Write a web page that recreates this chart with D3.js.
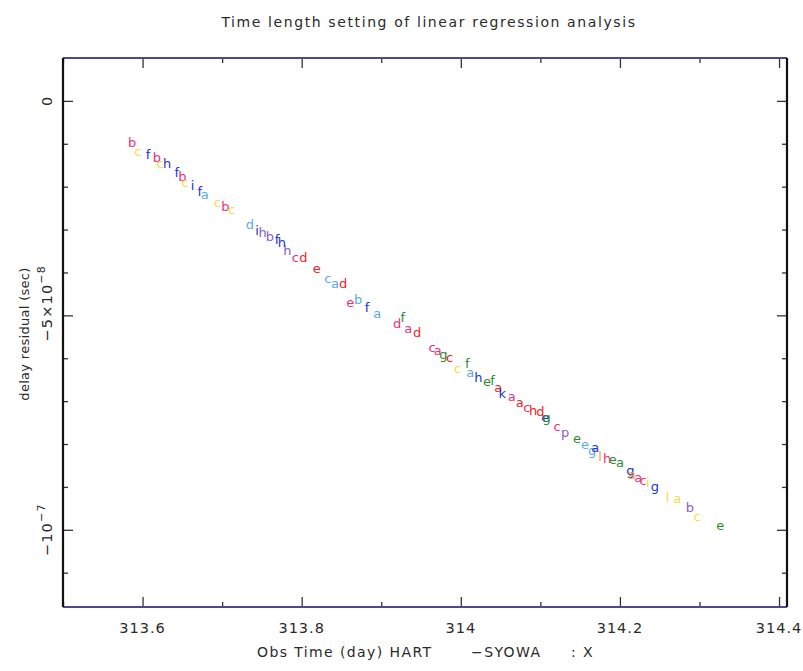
<!DOCTYPE html>
<html lang="en">
<head>
<meta charset="UTF-8">
<title>Time length setting of linear regression analysis</title>
<style>
  body { margin: 0; background: #fff; }
  text { font-family: "DejaVu Sans", sans-serif; fill: #2a2a2a; }
</style>
</head>
<body>
<script src="https://d3js.org/d3.v7.min.js"></script>
<script>
const obsTime = [313.587,313.594,313.607,313.618,313.622,313.631,313.643,313.650,313.653,313.663,
  313.672,313.678,313.694,313.704,313.712,313.735,313.744,313.751,313.760,313.769,
  313.775,313.782,313.792,313.802,313.819,313.833,313.842,313.852,313.861,313.871,
  313.882,313.895,313.920,313.927,313.934,313.945,313.964,313.971,313.978,313.986,
  313.996,314.008,314.012,314.022,314.033,314.040,314.047,314.052,314.064,314.074,
  314.083,314.091,314.100,314.106,314.108,314.121,314.131,314.146,314.156,314.165,
  314.169,314.175,314.184,314.191,314.200,314.213,314.215,314.223,314.229,314.235,
  314.244,314.260,314.272,314.288,314.297,314.326];
const residualE8 = [-0.98,-1.19,-1.26,-1.33,-1.45,-1.45,-1.68,-1.77,-1.89,-1.96,
  -2.12,-2.19,-2.36,-2.47,-2.54,-2.89,-3.01,-3.06,-3.17,-3.24,
  -3.31,-3.48,-3.66,-3.66,-3.90,-4.13,-4.25,-4.25,-4.69,-4.64,
  -4.81,-4.95,-5.18,-5.06,-5.30,-5.39,-5.74,-5.81,-5.92,-5.99,
  -6.23,-6.11,-6.32,-6.44,-6.55,-6.51,-6.67,-6.81,-6.90,-7.02,
  -7.14,-7.21,-7.25,-7.39,-7.37,-7.60,-7.74,-7.86,-8.02,-8.14,
  -8.09,-8.30,-8.33,-8.37,-8.44,-8.61,-8.72,-8.79,-8.84,-8.89,
  -9.00,-9.24,-9.26,-9.47,-9.70,-9.89];
// plotted symbol letter for each point
const symbols = ["b","c","f","b","c","h","f","b","c","i",
  "f","a","c","b","c","d","i","h","b","f",
  "h","h","c","d","e","c","a","d","e","b",
  "f","a","d","f","a","d","c","a","g","c",
  "c","f","a","h","e","f","a","k","a","a",
  "c","h","d","e","g","c","p","e","e","g",
  "a","l","h","e","a","g","a","a","c","i",
  "g","l","a","b","c","e"];
// channel of each point (sets the colour)
const channels = ["P","Y","B","P","Y","B","B","P","Y","B",
  "B","L","Y","P","Y","L","B","V","V","B",
  "B","V","P","R","R","L","L","R","P","L",
  "B","L","P","G","P","R","P","P","G","R",
  "Y","G","L","B","G","G","R","B","P","R",
  "P","R","R","B","G","P","V","G","L","L",
  "B","O","P","G","G","B","O","P","P","Y",
  "B","Y","Y","V","Y","G"];
const channelKeys = ["B","L","P","R","Y","G","V","O"];

const xMajor = [313.6, 313.8, 314, 314.2, 314.4];
const xMinor = [313.5, 313.7, 313.9, 314.1, 314.3];
const yMajor = [0, -5e-8, -1e-7];
const yMinor = [-1e-8, -2e-8, -3e-8, -4e-8, -6e-8, -7e-8, -8e-8, -9e-8, -1.1e-7];

const W = 803, H = 671;
const frame = { left: 63, right: 787, top: 58, bottom: 607 };

const svg = d3.select("body").append("svg")
  .attr("width", W).attr("height", H);

const x = d3.scaleLinear().domain([313.5, 314.41]).range([frame.left, frame.right]);
const y = d3.scaleLinear().domain([1e-8, -1.18e-7]).range([frame.top, frame.bottom]);
const color = d3.scaleOrdinal()
  .domain(channelKeys)
  .range(["#2233cc", "#5aa8ee", "#ee2f7c", "#ee2222", "#f2dc4a", "#2f8a2f", "#8a5cc8", "#f0a03c"]);

// ticks (inward), major + minor, all four sides
function tickAxis(axis, vals, size, tr) {
  const g = svg.append("g").attr("transform", tr)
    .call(axis.tickValues(vals).tickSizeInner(-size).tickSizeOuter(0).tickFormat(""));
  g.select(".domain").remove();
  g.selectAll("line").attr("stroke", "#333").attr("stroke-width", 1.3);
  return g;
}
tickAxis(d3.axisBottom(x), xMajor, 10, `translate(0,${frame.bottom})`);
tickAxis(d3.axisBottom(x), xMinor, 5, `translate(0,${frame.bottom})`);
tickAxis(d3.axisTop(x), xMajor, 10, `translate(0,${frame.top})`);
tickAxis(d3.axisTop(x), xMinor, 5, `translate(0,${frame.top})`);
tickAxis(d3.axisLeft(y), yMajor, 10, `translate(${frame.left},0)`);
tickAxis(d3.axisLeft(y), yMinor, 5, `translate(${frame.left},0)`);
tickAxis(d3.axisRight(y), yMajor, 10, `translate(${frame.right},0)`);
tickAxis(d3.axisRight(y), yMinor, 5, `translate(${frame.right},0)`);

// frame
svg.append("line").attr("x1", frame.left).attr("x2", frame.right).attr("y1", frame.top).attr("y2", frame.top)
  .attr("stroke", "#54468c").attr("stroke-width", 2);
svg.append("line").attr("x1", frame.left).attr("x2", frame.right).attr("y1", frame.bottom).attr("y2", frame.bottom)
  .attr("stroke", "#54468c").attr("stroke-width", 2);
svg.append("line").attr("x1", frame.left).attr("x2", frame.left).attr("y1", frame.top).attr("y2", frame.bottom)
  .attr("stroke", "#111").attr("stroke-width", 2.2);
svg.append("line").attr("x1", frame.right).attr("x2", frame.right).attr("y1", frame.top).attr("y2", frame.bottom)
  .attr("stroke", "#111").attr("stroke-width", 2.2);

// x tick labels
svg.append("g").selectAll("text").data(xMajor).join("text")
  .attr("x", d => x(d)).attr("y", frame.bottom + 26)
  .attr("text-anchor", "middle").attr("font-size", 14.5).attr("letter-spacing", 1)
  .text(d => String(+d.toFixed(1)));

// y tick labels, rotated
const yLab = svg.append("g");
yMajor.forEach(v => {
  const shift = v === -5e-8 ? -12 : 0;
  const t = yLab.append("text")
    .attr("transform", `translate(52,${y(v) + shift}) rotate(-90)`)
    .attr("text-anchor", "middle").attr("font-size", 14.5).attr("letter-spacing", 1.2);
  if (v === 0) {
    t.text("0");
  } else if (v === -5e-8) {
    t.append("tspan").text("\u22125\u00d710");
    t.append("tspan").attr("dy", -7).attr("font-size", 11).text("\u22128");
  } else {
    t.append("tspan").text("\u221210");
    t.append("tspan").attr("dy", -7).attr("font-size", 11).text("\u22127");
  }
});

// points as letters
svg.append("g").selectAll("text").data(obsTime).join("text")
  .attr("x", (d, i) => x(d))
  .attr("y", (d, i) => y(residualE8[i] * 1e-8))
  .attr("dy", "0.35em")
  .attr("text-anchor", "middle")
  .attr("font-size", 13)
  .style("fill", (d, i) => color(channels[i]))
  .text((d, i) => symbols[i]);

// titles
svg.append("text").attr("x", 429).attr("y", 27).attr("text-anchor", "middle")
  .attr("font-size", 14).attr("letter-spacing", 1.6)
  .text("Time length setting of linear regression analysis");
const xt = svg.append("text").attr("y", 657)
  .attr("font-size", 14).attr("letter-spacing", 1.4);
xt.append("tspan").attr("x", 257).text("Obs Time (day) HART");
xt.append("tspan").attr("x", 471).text("\u2212SYOWA");
xt.append("tspan").attr("x", 571).text(": X");
svg.append("text").attr("transform", "translate(29,334) rotate(-90)").attr("text-anchor", "middle")
  .attr("font-size", 13).attr("letter-spacing", 0.3)
  .text("delay residual (sec)");
</script>
</body>
</html>
